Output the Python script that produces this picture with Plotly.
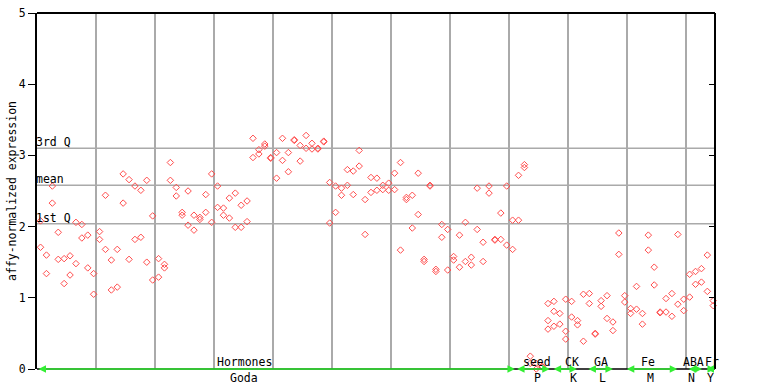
import plotly.graph_objects as go

# replicate values per sample (index 0..114)
rep_a = [2.08, 1.60, 2.57, 1.92, 1.55, 1.59, 2.06, 2.03, 1.88, 1.34,
         1.93, 2.44, 1.53, 1.68, 2.74, 2.66, 2.57, 2.51, 2.65, 2.15,
         1.55, 1.47, 2.90, 2.55, 2.20, 2.50, 2.16, 2.13, 2.45, 2.74,
         2.57, 2.26, 2.40, 2.47, 2.30, 2.36, 3.24, 3.08, 3.16, 2.97,
         3.04, 3.24, 3.04, 3.22, 3.14, 3.28, 3.17, 3.10, 3.20, 2.62,
         2.57, 2.54, 2.80, 2.78, 3.07, 2.38, 2.69, 2.68, 2.58, 2.61,
         2.75, 2.90, 2.41, 2.44, 2.75, 1.54, 2.58, 1.40, 2.03, 1.96,
         1.58, 1.88, 2.06, 1.57, 2.54, 1.78, 2.57, 1.82, 2.19, 2.57,
         2.09, 2.72, 2.87, 0.18, 0.08, 0.04, 0.92, 0.95, 0.78, 0.98,
         0.95, 0.68, 1.05, 1.06, 0.50, 0.96, 1.03, 0.66, 1.91, 1.03,
         0.85, 1.16, 0.78, 1.88, 1.43, 0.80, 0.99, 1.06, 1.89, 0.98,
         1.33, 1.37, 1.41, 1.60, 0.96]
rep_b = [1.71, 1.34, 2.33, 1.54, 1.20, 1.32, 1.48, 1.84, 1.42, 1.05,
         1.82, 1.68, 1.11, 1.15, 2.33, 1.54, 1.82, 1.85, 1.50, 1.25,
         1.29, 1.42, 2.65, 2.43, 2.16, 2.02, 1.95, 2.10, 2.20, 2.06,
         2.27, 2.16, 2.12, 1.99, 1.99, 2.07, 2.97, 3.02, 3.13, 2.96,
         2.68, 2.93, 2.77, 3.21, 2.92, 3.10, 3.09, 3.09, 3.19, 2.05,
         2.20, 2.44, 2.58, 2.45, 2.85, 1.89, 2.48, 2.51, 2.52, 2.51,
         2.52, 1.67, 2.38, 1.98, 2.17, 1.51, 2.57, 1.37, 1.85, 1.39,
         1.53, 1.43, 1.51, 1.46, 1.96, 1.51, 2.47, 1.81, 1.82, 1.74,
         1.68, 2.09, 2.83, 0.08, 0.00, 0.03, 0.68, 0.81, 0.63, 0.53,
         0.73, 0.62, 0.39, 0.92, 0.49, 0.88, 0.71, 0.54, 1.61, 0.94,
         0.78, 0.84, 0.63, 1.67, 1.18, 0.79, 0.80, 0.74, 0.91, 0.82,
         1.01, 1.19, 1.22, 1.09, 0.89]
rep_c = {86: 0.56, 87: 0.60, 89: 0.42}

quartiles = {"3rd Q": 3.10, "mean": 2.58, "1st Q": 2.04}

groups_top = ["Hormones", "seed", "CK", "GA", "Fe", "ABA", "Fr"]
groups_top_x = [35.1, 84.8, 90.7, 95.6, 103.6, 111.2, 114.4]
groups_bot = ["Goda", "P", "K", "L", "M", "N", "Y"]
groups_bot_x = [35.1, 84.9, 91.0, 95.9, 103.9, 111.0, 114.1]
group_spans = [(0, 81.0), (81.1, 86.9), (87.3, 91.5), (93.2, 97.6),
               (99.7, 108.5), (110.2, 112.7), (113.2, 114.9)]

XMAX = 114.9
FONT = "DejaVu Sans Mono"
RED = "#ff4d4d"

xs, ys = [], []
for i, (a, b) in enumerate(zip(rep_a, rep_b)):
    xs += [i + 0.6, i + 0.6]
    ys += [a, b]
    if i in rep_c:
        xs.append(i + 0.6)
        ys.append(rep_c[i])

fig = go.Figure()
fig.add_trace(go.Scatter(
    x=xs, y=ys, mode="markers",
    marker=dict(symbol="diamond-open", size=5, color=RED, line=dict(width=1, color=RED)),
    showlegend=False, hoverinfo="skip", cliponaxis=False))
# invisible trace for right axis
fig.add_trace(go.Scatter(x=[0], y=[0], yaxis="y2", mode="markers",
                         marker=dict(opacity=0), showlegend=False, hoverinfo="skip"))

shapes = []
for lab, v in quartiles.items():
    shapes.append(dict(type="line", xref="x", yref="y", x0=0, x1=XMAX, y0=v, y1=v,
                       line=dict(color="#aaaaaa", width=1.5), layer="below"))
# frame top & right & bottom
shapes.append(dict(type="line", xref="paper", yref="paper", x0=0, x1=1, y0=1, y1=1,
                   line=dict(color="black", width=2)))
shapes.append(dict(type="line", xref="paper", yref="paper", x0=1, x1=1, y0=0, y1=1,
                   line=dict(color="black", width=2)))
shapes.append(dict(type="line", xref="paper", yref="paper", x0=0, x1=1, y0=0, y1=0,
                   line=dict(color="black", width=1.5)))

annotations = []
for lab, v in quartiles.items():
    annotations.append(dict(x=0, y=v, xref="x", yref="y", text=lab, showarrow=False,
                            xanchor="left", yanchor="bottom", xshift=-3, yshift=-3,
                            font=dict(family=FONT, size=11.5, color="black")))
for lab, xv in zip(groups_top, groups_top_x):
    annotations.append(dict(x=xv, y=0, xref="x", yref="y", text=lab, showarrow=False,
                            xanchor="center", yanchor="bottom", yshift=-2,
                            font=dict(family=FONT, size=11.5, color="black")))
for lab, xv in zip(groups_bot, groups_bot_x):
    annotations.append(dict(x=xv, y=0, xref="x", yref="y", text=lab, showarrow=False,
                            xanchor="center", yanchor="top", yshift=0,
                            font=dict(family=FONT, size=11.5, color="black")))
for (s, e) in group_spans:
    annotations.append(dict(x=e, y=0, ax=s, ay=0, xref="x", yref="y", axref="x", ayref="y",
                            text="", showarrow=True, arrowhead=2, arrowside="end+start",
                            arrowsize=1, arrowwidth=1.5, arrowcolor="#33ee33"))
annotations.append(dict(x=0, y=0.5, xref="paper", yref="paper", text="affy-normalized expression",
                        showarrow=False, textangle=-90, xanchor="center", yanchor="middle",
                        xshift=-25, font=dict(family=FONT, size=11.5, color="black")))

fig.update_layout(
    width=768, height=384,
    margin=dict(l=37, r=53, t=13, b=15, autoexpand=False),
    paper_bgcolor="white", plot_bgcolor="white",
    xaxis=dict(range=[0, XMAX], dtick=10, tick0=0, showgrid=True, gridcolor="#aaaaaa",
               gridwidth=1.5, showticklabels=False, ticks="", zeroline=False, showline=False,
               fixedrange=True, automargin=False),
    yaxis=dict(range=[0, 5], dtick=1, showgrid=False, zeroline=False, showline=True,
               linecolor="black", linewidth=2, ticks="outside", ticklen=7, tickcolor="black",
               automargin=False,
               tickfont=dict(family=FONT, size=11.5, color="black")),
    yaxis2=dict(range=[0, 5], dtick=1, overlaying="y", side="right", showgrid=False,
                zeroline=False, showline=False, ticks="inside", ticklen=6, tickcolor="black",
                showticklabels=False, automargin=False),
    shapes=shapes, annotations=annotations,
)

fig.write_html("out.html", config={"displayModeBar": False},
               post_script="document.body.style.margin='0';document.body.style.overflow='hidden';")
